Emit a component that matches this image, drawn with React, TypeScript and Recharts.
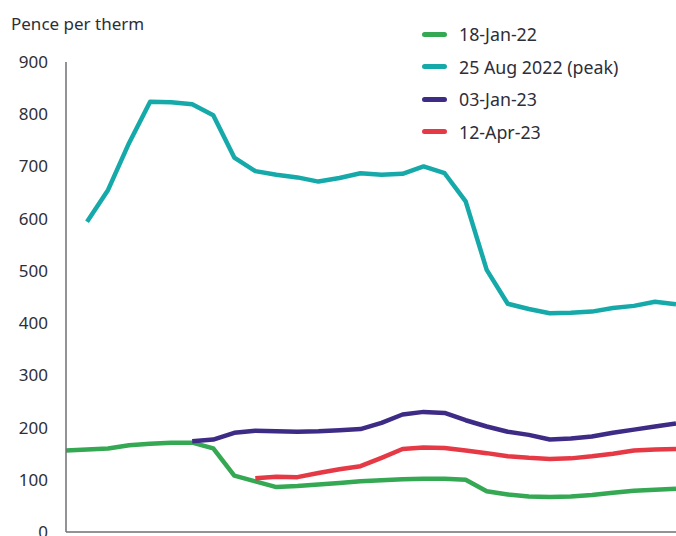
import { LineChart, Line, XAxis, YAxis } from 'recharts';

// Forward-curve snapshots, one value per delivery month (pence per therm).
// null = the curve had not started yet at that month.
const jan22 = [
  156, 158, 160, 166, 169, 171, 171, 160, 108, 97, 86, 88, 91, 94, 97,
  99, 101, 102, 102, 100, 78, 72, 68, 67, 68, 71, 75, 79, 81, 83,
];
const aug22 = [
  null, 594, 655, 745, 824, 823, 819, 798, 717, 691, 684, 679, 671, 678, 687,
  684, 686, 700, 687, 633, 502, 437, 427, 419, 420, 422, 429, 433, 441, 436,
];
const jan23 = [
  null, null, null, null, null, null, 174, 177, 190, 194, 193, 192, 193, 195, 197,
  209, 225, 230, 228, 214, 202, 192, 186, 177, 179, 183, 190, 196, 202, 208,
];
const apr23 = [
  null, null, null, null, null, null, null, null, null, 103, 106, 105, 113, 120, 126,
  142, 159, 162, 161, 156, 151, 145, 142, 140, 141, 145, 150, 156, 158, 159,
];

const yTicks = [0, 100, 200, 300, 400, 500, 600, 700, 800, 900];

const series = [
  { key: 'jan22', name: '18-Jan-22', color: '#35a853' },
  { key: 'aug22', name: '25 Aug 2022 (peak)', color: '#16a9a9' },
  { key: 'jan23', name: '03-Jan-23', color: '#3e2b86' },
  { key: 'apr23', name: '12-Apr-23', color: '#e63946' },
];

const rows = jan22.map((v, i) => ({
  step: i,
  jan22: v,
  aug22: aug22[i],
  jan23: jan23[i],
  apr23: apr23[i],
}));

const FONT = '"Noto Sans", Arial, sans-serif';
const TEXT = '#2e2e38';
const AXIS = '#6f6f75';

function LegendList() {
  return (
    <div style={{ position: 'absolute', left: 422, top: 18, fontFamily: FONT }}>
      {series.map((s) => (
        <div key={s.key} style={{ display: 'flex', alignItems: 'center', height: 32.5 }}>
          <span
            style={{
              display: 'inline-block',
              width: 25,
              height: 5,
              borderRadius: 3,
              background: s.color,
              marginRight: 12,
            }}
          />
          <span style={{ fontSize: 17.8, color: TEXT }}>{s.name}</span>
        </div>
      ))}
    </div>
  );
}

export default function App() {
  return (
    // fixed so the 676x536 canvas sits flush with the viewport and never scrolls
    <div style={{ position: 'fixed', left: 0, top: 0, width: 676, height: 536, overflow: 'hidden', background: '#fff' }}>
      <div
        style={{
          position: 'absolute',
          left: 11,
          top: 12,
          fontFamily: FONT,
          fontSize: 17,
          color: TEXT,
        }}
      >
        Pence per therm
      </div>
      <LegendList />
      <LineChart width={676} height={536} data={rows} margin={{ top: 62, right: 0, bottom: 2, left: 0 }}>
        <XAxis
          dataKey="step"
          tick={false}
          tickLine={false}
          height={2}
          axisLine={{ stroke: AXIS, strokeWidth: 1.5 }}
        />
        <YAxis
          domain={[0, 900]}
          ticks={yTicks}
          interval={0}
          width={66}
          tickLine={false}
          tickMargin={12}
          axisLine={{ stroke: AXIS, strokeWidth: 1.5 }}
          tick={{ fill: TEXT, fontSize: 17, fontFamily: FONT }}
        />
        {series.map((s) => (
          <Line
            key={s.key}
            dataKey={s.key}
            name={s.name}
            stroke={s.color}
            strokeWidth={4.5}
            dot={false}
            activeDot={false}
            strokeLinejoin="round"
            isAnimationActive={false}
          />
        ))}
      </LineChart>
    </div>
  );
}
